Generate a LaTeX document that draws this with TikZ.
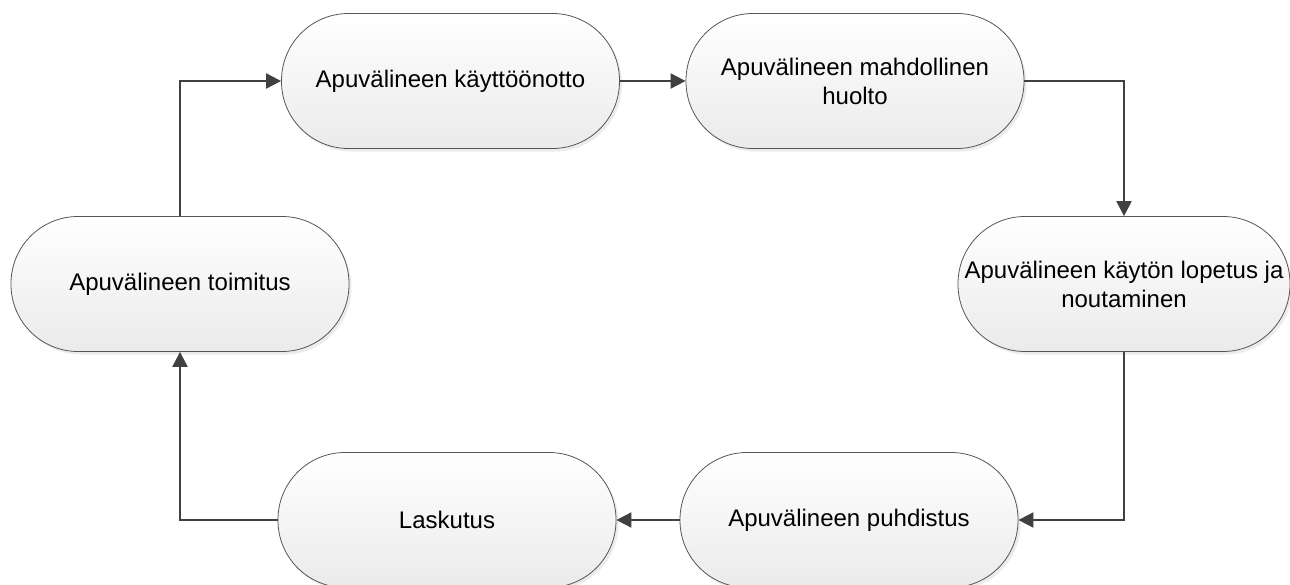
\documentclass[tikz,border=0pt]{standalone}
\usepackage{fontspec}
\setmainfont{Liberation Sans}
\usetikzlibrary{arrows.meta,shadows}
\definecolor{edgegray}{HTML}{404040}
\definecolor{bordergray}{HTML}{555555}
\begin{document}
\begin{tikzpicture}[x=1pt,y=-1pt,
  term/.style={draw=bordergray, line width=0.8pt, rounded corners=67pt,
    minimum width=338pt, minimum height=135pt, inner sep=0pt,
    top color=white, bottom color=black!8, align=center,
    font=\fontsize{24}{29}\selectfont,
    drop shadow={shadow xshift=2.5pt, shadow yshift=-3pt, fill=black!15, opacity=0.5}},
  conn/.style={draw=edgegray, line width=2pt, -{Triangle[length=15pt,width=15pt]}}]
\useasboundingbox (0,0) rectangle (1290,584);
\node[term] (n1) at (450.5,81) {Apuvälineen käyttöönotto};
\node[term] (n2) at (855,81) {Apuvälineen mahdollinen\\huolto};
\node[term, minimum width=332pt] (n3) at (1124,284) {Apuvälineen käytön lopetus ja\\noutaminen};
\node[term] (n4) at (849,520) {Apuvälineen puhdistus};
\node[term] (n5) at (447,520) {Laskutus};
\node[term] (n6) at (180,284) {Apuvälineen toimitus};
\draw[conn] (n6.north) |- (n1.west);
\draw[conn] (n1.east) -- (n2.west);
\draw[conn] (n2.east) -| (n3.north);
\draw[conn] (n3.south) |- (n4.east);
\draw[conn] (n4.west) -- (n5.east);
\draw[conn] (n5.west) -| (n6.south);
\end{tikzpicture}
\end{document}
